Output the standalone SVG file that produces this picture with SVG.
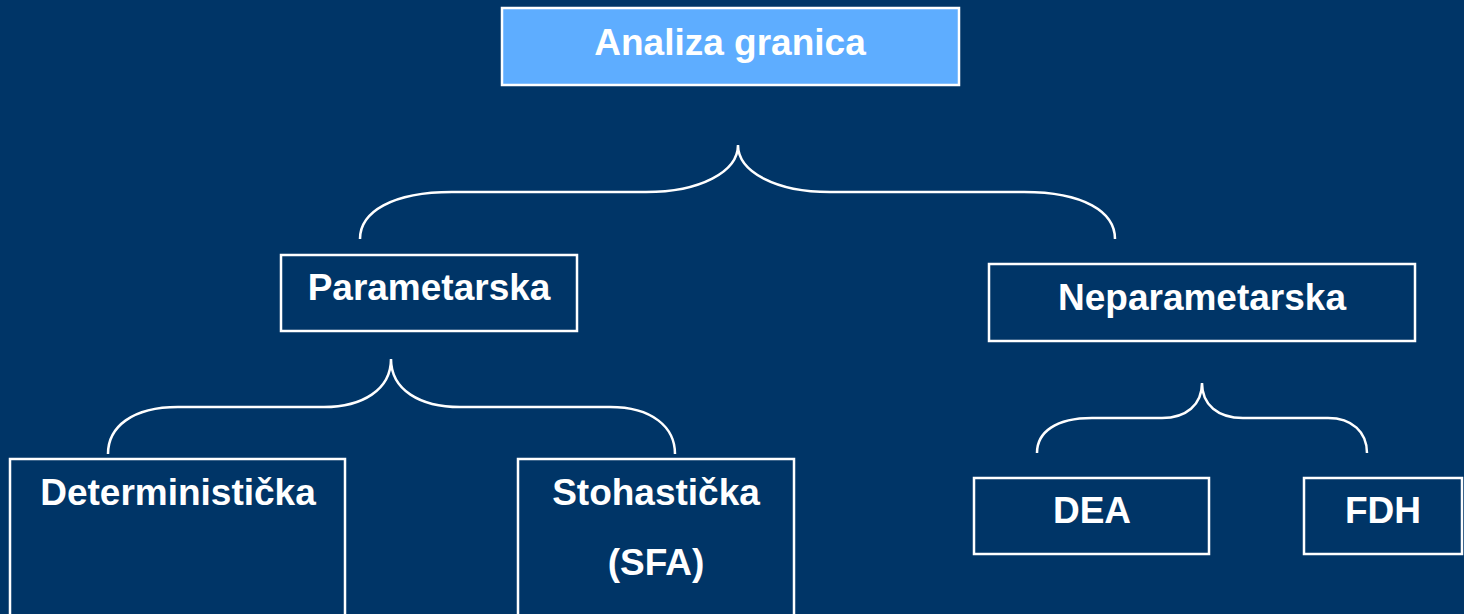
<svg xmlns="http://www.w3.org/2000/svg" width="1464" height="614" viewBox="0 0 1464 614">
<style>
.box{fill:none;stroke:#ffffff;stroke-width:2.5}
.top{fill:#5eadff;stroke:#ffffff;stroke-width:2.5}
.brace{fill:none;stroke:#ffffff;stroke-width:2.5}
text{font-family:"Liberation Sans",Arial,sans-serif;font-weight:bold;font-size:37px;fill:#ffffff;text-anchor:middle}
</style>
<rect x="0" y="0" width="1464" height="614" fill="#003567"/>
<g id="connectors">
<path class="brace" d="M360,239 C360,212 392,192 452,192 L646,192 C700,192 738,172 738,145 C738,172 776,192 830,192 L1024,192 C1084,192 1115,212 1115,239"/>
<path class="brace" d="M108,454 C108,427 132,407 178,407 L324,407 C362,407 391,390 391,359 C391,390 420,407 460,407 L610,407 C652,407 675,427 675,454"/>
<path class="brace" d="M1037,453 C1037,432 1056,418 1092,418 L1162,418 C1186,418 1202,405 1202,383 C1202,405 1218,418 1243,418 L1328,418 C1352,418 1367,432 1367,453"/>
</g>
<g id="analiza">
<rect class="top" x="502" y="8" width="457" height="77"/>
<text x="730" y="55">Analiza granica</text>
</g>
<g id="parametarska">
<rect class="box" x="281" y="255" width="296" height="76"/>
<text x="429" y="300">Parametarska</text>
</g>
<g id="neparametarska">
<rect class="box" x="989" y="264" width="426" height="77"/>
<text x="1202" y="310">Neparametarska</text>
</g>
<g id="deterministicka">
<rect class="box" x="10" y="459" width="335" height="170"/>
<text x="178" y="505">Deterministička</text>
</g>
<g id="stohasticka">
<rect class="box" x="518" y="459" width="276" height="170"/>
<text x="656" y="505">Stohastička</text>
<text x="656" y="575">(SFA)</text>
</g>
<g id="dea">
<rect class="box" x="974" y="478" width="235" height="76"/>
<text x="1092" y="523">DEA</text>
</g>
<g id="fdh">
<rect class="box" x="1304" y="478" width="158" height="76"/>
<text x="1383" y="523">FDH</text>
</g>
</svg>
